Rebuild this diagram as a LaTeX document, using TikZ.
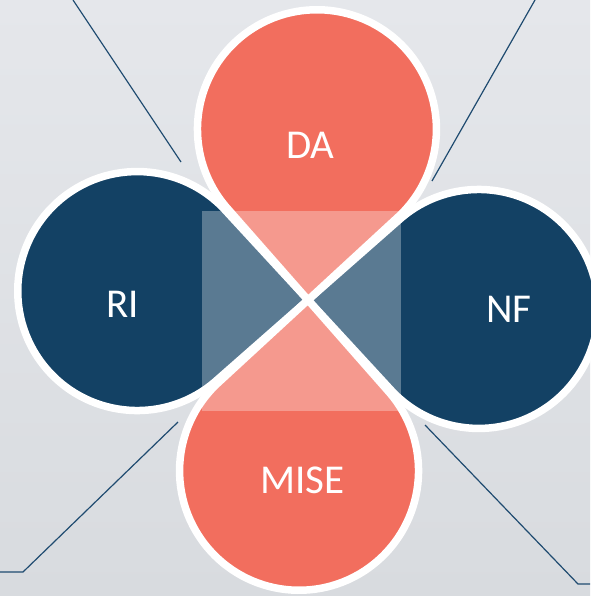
\documentclass[tikz,border=0pt]{standalone}
\usepackage{fontspec}
\setmainfont{Carlito}
\usetikzlibrary{calc}
\definecolor{coral}{HTML}{F26E5E}
\definecolor{navy}{HTML}{134164}
\definecolor{linec}{HTML}{1F4B70}
\definecolor{bgtop}{HTML}{E5E7EB}
\definecolor{bgbot}{HTML}{D8DBDF}
\newcommand\mypetal[2]{%
  \path[petal, fill=#2] (O) -- ($(O)+(#1:171)+({#1+180+45.66}:119.5)$)
    arc[start angle={#1+180+45.66}, end angle={#1+540-45.66}, radius=119.5] -- cycle;}
\begin{document}
\begin{tikzpicture}[x=1pt,y=-1pt,
  petal/.style={draw=white,line width=7.5pt,line join=round},
  lbl/.style={text=white,inner sep=0pt,font=\fontsize{41}{41}\selectfont},
  guide/.style={draw=linec,line width=1.2pt}]
\path[use as bounding box, top color=bgtop, bottom color=bgbot] (0,0) rectangle (590,596);
\coordinate (O) at (308,300);
% guide lines
\coordinate (g1a) at (73,0);   \coordinate (g1b) at (181,162);
\coordinate (g2a) at (535,0);  \coordinate (g2b) at (432,181);
\coordinate (g3a) at (178,422); \coordinate (g3b) at (23,572); \coordinate (g3c) at (0,572);
\coordinate (g4a) at (425,425); \coordinate (g4b) at (578,584); \coordinate (g4c) at (590,584);
\draw[guide] (g1a) -- (g1b);
\draw[guide] (g2a) -- (g2b);
\draw[guide] (g3a) -- (g3b) -- (g3c);
\draw[guide] (g4a) -- (g4b) -- (g4c);
% petals
\mypetal{183}{navy}
\mypetal{3}{navy}
\mypetal{-87}{coral}
\mypetal{93}{coral}
% overlay
\fill[white, fill opacity=0.3] (202,211) rectangle (401,411);
% labels
\node[lbl] (da) at (310.5,145.5) {DA};
\node[lbl] (ri) at (122.5,304.5) {RI};
\node[lbl] (nf) at (509,309.5) {NF};
\node[lbl] (mise) at (302.5,480.5) {MISE};
\end{tikzpicture}
\end{document}
